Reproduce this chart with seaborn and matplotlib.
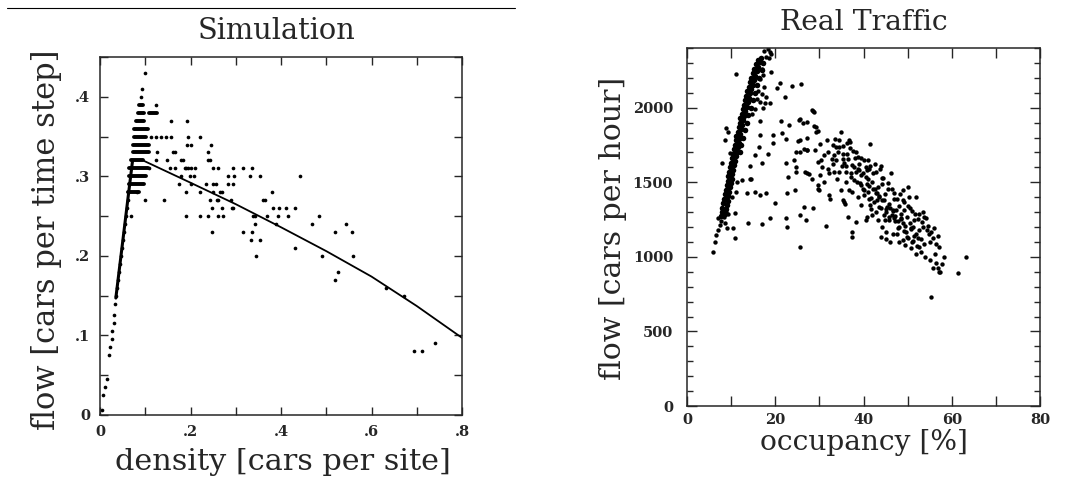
import matplotlib
matplotlib.use('Agg')
import matplotlib.pyplot as plt
import pandas as pd
import seaborn as sns
from matplotlib.lines import Line2D
from matplotlib.ticker import MultipleLocator, FuncFormatter

# ---------------- Simulation (left) ----------------
# free-flow dots near the origin
sim_free_density = [0.005, 0.007, 0.011, 0.015, 0.020, 0.022, 0.026, 0.026, 0.030, 0.032]
sim_free_flow = [0.006, 0.025, 0.035, 0.045, 0.076, 0.086, 0.095, 0.106, 0.116, 0.126]

# dense rising branch
sim_rise_density = [0.034, 0.036, 0.038, 0.040, 0.043, 0.045, 0.047, 0.049, 0.051, 0.053,
                    0.055, 0.057, 0.059, 0.061, 0.062, 0.064, 0.066, 0.068, 0.070]
sim_rise_flow = [0.14, 0.15, 0.16, 0.17, 0.18, 0.19, 0.20, 0.21, 0.22, 0.23,
                 0.24, 0.25, 0.26, 0.27, 0.28, 0.29, 0.30, 0.31, 0.32]

# horizontal runs of overlapping dots near the maximum
dash_flow = [0.39, 0.38, 0.38, 0.37, 0.36, 0.35, 0.34, 0.33, 0.32, 0.31, 0.30, 0.29, 0.28]
dash_start = [0.086, 0.083, 0.109, 0.080, 0.076, 0.075, 0.073, 0.073, 0.069, 0.065, 0.065, 0.063, 0.062]
dash_end = [0.094, 0.098, 0.127, 0.098, 0.105, 0.101, 0.109, 0.109, 0.095, 0.105, 0.101, 0.098, 0.087]

# scattered dots, row by row
sim_density = [
    0.100, 0.093, 0.091, 0.124,
    0.157, 0.193,
    0.112, 0.123, 0.134, 0.145, 0.156, 0.194, 0.220,
    0.193, 0.202, 0.245,
    0.125, 0.161, 0.165, 0.238,
    0.123, 0.147, 0.178, 0.184, 0.239, 0.243,
    0.109, 0.154, 0.165, 0.187, 0.191, 0.195, 0.202, 0.209, 0.249, 0.261, 0.293, 0.317, 0.335,
    0.180, 0.198, 0.207, 0.282, 0.297, 0.331, 0.354, 0.441,
    0.175, 0.202, 0.235, 0.249, 0.256, 0.282, 0.293,
    0.081, 0.190, 0.221, 0.249, 0.265, 0.269, 0.381,
    0.100, 0.141, 0.243, 0.258, 0.261, 0.289, 0.361, 0.365,
    0.247, 0.270, 0.291, 0.294, 0.383, 0.396, 0.412, 0.431,
    0.068, 0.191, 0.221, 0.239, 0.261, 0.272, 0.339, 0.343, 0.369, 0.394, 0.416, 0.485,
    0.343, 0.390, 0.468, 0.543,
    0.247, 0.317, 0.335, 0.519, 0.558,
    0.334, 0.354,
    0.430,
    0.345, 0.490, 0.560,
    0.527, 0.520, 0.632, 0.671,
    0.741, 0.693, 0.711,
]
sim_flow = [
    0.43, 0.41, 0.40, 0.39,
    0.37, 0.37,
    0.35, 0.35, 0.35, 0.35, 0.35, 0.35, 0.35,
    0.34, 0.34, 0.34,
    0.33, 0.33, 0.33, 0.33,
    0.32, 0.32, 0.32, 0.32, 0.32, 0.32,
    0.31, 0.31, 0.31, 0.31, 0.31, 0.31, 0.31, 0.31, 0.31, 0.31, 0.31, 0.31, 0.31,
    0.30, 0.30, 0.30, 0.30, 0.30, 0.30, 0.30, 0.30,
    0.29, 0.29, 0.29, 0.29, 0.29, 0.29, 0.29,
    0.28, 0.28, 0.28, 0.28, 0.28, 0.28, 0.28,
    0.27, 0.27, 0.27, 0.27, 0.27, 0.27, 0.27, 0.27,
    0.26, 0.26, 0.26, 0.26, 0.26, 0.26, 0.26, 0.26,
    0.25, 0.25, 0.25, 0.25, 0.25, 0.25, 0.25, 0.25, 0.25, 0.25, 0.25, 0.25,
    0.24, 0.24, 0.24, 0.24,
    0.23, 0.23, 0.23, 0.23, 0.23,
    0.22, 0.22,
    0.21,
    0.20, 0.20, 0.20,
    0.18, 0.17, 0.16, 0.15,
    0.09, 0.08, 0.08,
]

# fitted curves
line_rise_density = [0.035, 0.072]
line_rise_flow = [0.147, 0.320]
line_density = [0.095, 0.2, 0.3, 0.4, 0.5, 0.6, 0.7, 0.8]
line_flow = [0.320, 0.292, 0.265, 0.236, 0.206, 0.174, 0.137, 0.097]

# ---------------- Real traffic (right) ----------------
# dense free-flow band
band_occ = [7.6, 7.9, 8.0, 8.2, 8.4, 8.6, 8.8, 9.0, 9.2, 9.4, 9.6, 9.8, 10.0, 10.2, 10.4, 10.6, 10.8, 11.0,
            11.2, 11.5, 11.7, 11.9, 12.1, 12.4, 12.6, 12.9, 13.1, 13.4, 13.7, 14.0, 14.3, 14.6, 14.9, 15.2, 15.6, 16.0,
            8.6, 8.9, 9.0, 9.2, 9.4, 9.5, 9.7, 9.9, 10.1, 10.3, 10.5, 10.7, 10.9, 11.1, 11.3, 11.5, 11.7, 11.9,
            12.1, 12.3, 12.5, 12.7, 13.0, 13.2, 13.5, 13.8, 14.0, 14.3, 14.6, 14.9, 15.2, 15.5, 15.9, 16.2, 16.5, 16.8,
            11.9, 12.3, 12.7, 13.1, 13.6, 13.9, 14.4, 14.9, 15.4, 15.8, 16.4, 16.9, 17.3,
            8.2, 8.7, 9.3, 9.8, 10.4, 10.9, 11.4]
band_flow = [1275, 1300, 1330, 1360, 1390, 1420, 1450, 1480, 1510, 1540, 1570, 1600, 1630, 1660, 1690, 1720, 1750, 1780,
             1810, 1840, 1870, 1900, 1930, 1960, 1990, 2020, 2050, 2080, 2110, 2140, 2170, 2200, 2230, 2260, 2290, 2320,
             1290, 1320, 1345, 1375, 1405, 1435, 1465, 1495, 1525, 1555, 1585, 1615, 1645, 1675, 1705, 1735, 1765, 1795,
             1825, 1855, 1885, 1915, 1945, 1975, 2005, 2035, 2065, 2095, 2125, 2155, 2185, 2215, 2245, 2275, 2305, 2335,
             1700, 1750, 1800, 1850, 1900, 1950, 2000, 2050, 2100, 2150, 2200, 2250, 2300,
             1310, 1390, 1470, 1550, 1630, 1710, 1790]

# dots just below and above the band
edge_occ = [5.9, 6.3, 6.6, 7.0, 7.4, 7.0, 7.7, 8.3, 8.9, 9.3, 8.5, 9.0,
            17.5, 18.3, 18.8, 17.9, 18.5, 19.0, 16.9, 17.3, 16.6, 17.5, 16.2, 17.0, 15.8, 16.5, 17.6, 15.5, 14.8]
edge_flow = [1034, 1101, 1146, 1180, 1213, 1258, 1240, 1270, 1300, 1290, 1225, 1190,
             2380, 2395, 2370, 2340, 2330, 2360, 2260, 2220, 2190, 2140, 2110, 2090, 2060, 2040, 2030, 1990, 1960]

# loose dots between the two branches
fan_occ = [11.0, 19.1, 21.0, 20.4, 22.1, 23.7, 25.9, 18.0, 18.9, 17.2, 28.6, 21.4, 23.1, 25.5, 27.1, 29.3, 29.7,
           16.5, 19.5, 21.6, 22.5, 25.5, 16.5, 16.3, 15.3, 14.2, 16.9, 18.4, 19.5, 24.8, 25.5, 27.1, 22.5, 24.8,
           22.9, 14.2, 14.6, 12.5, 11.3, 15.3, 13.5, 11.2, 16.5, 18.0, 19.9, 22.7, 24.4, 27.1, 29.7, 26.5, 28.6,
           22.5, 22.7, 25.5, 26.9, 31.4, 13.8, 16.9, 18.7, 10.3, 10.8, 10.4, 10.8, 8.9, 9.3, 8.5, 9.7, 8.0,
           25.5, 37.5, 37.5, 35.8, 36.5, 38.4, 55.4, 61.5, 63.2, 56.9, 57.3, 28.4, 28.8]
fan_flow = [2225, 2241, 2167, 2129, 2073, 2145, 2158, 2073, 2028, 1995, 1977, 1912, 1883, 1923, 1906, 1872, 1845,
            1912, 1816, 1827, 1787, 1783, 1816, 1738, 1682, 1611, 1626, 1689, 1760, 1705, 1705, 1716, 1626, 1571,
            1537, 1521, 1521, 1515, 1503, 1436, 1430, 1432, 1414, 1425, 1358, 1425, 1448, 1559, 1481, 1336, 1325,
            1258, 1202, 1280, 1247, 1206, 1224, 1220, 1258, 1403, 1291, 1191, 1124, 1861, 1839, 1783, 1693, 1626,
            1063, 1168, 1135, 1354, 1269, 1235, 733, 889, 1001, 923, 900, 1985, 1970]

# congested cloud
cloud_occ = [25.3, 26.2, 28.8, 29.2, 27.1, 25.1, 31.7, 30.1, 33.0, 33.7, 34.5, 35.3, 36.8, 36.9, 41.5, 38.3,
             26.6, 27.3, 29.1, 31.1, 30.3, 29.6, 33.4, 33.7, 35.3, 35.6, 36.0, 31.9, 33.4, 34.5, 30.1, 32.2,
             27.7, 26.8, 24.7, 24.3, 28.3, 29.6, 30.0, 32.1, 32.4, 35.3, 35.6, 36.8, 37.5, 37.2, 38.3, 39.0,
             39.8, 41.3, 42.1, 44.0, 43.7, 46.2, 40.9, 42.1, 43.2, 44.3, 45.5, 40.2, 41.3, 42.4, 43.6, 42.8,
             44.3, 45.8, 46.6, 41.7, 42.8, 44.7, 45.8, 47.4, 48.5, 49.2, 47.7, 48.9, 50.4, 51.9, 48.9, 50.0,
             40.5, 40.9, 44.3, 45.1, 46.6, 48.1, 49.6, 50.8, 51.5, 52.6, 53.4, 53.8, 54.2, 48.9, 50.0, 51.1,
             50.8, 52.6, 53.0, 51.9, 54.9, 55.7, 56.0, 56.4, 57.2, 58.3, 55.7, 57.2,
             38.5, 39.5, 40.0, 41.0, 42.0, 43.0, 43.5, 44.8, 45.2, 46.0, 46.5, 47.0, 47.8, 48.5, 49.0, 49.8,
             50.5, 51.2, 52.0, 52.5, 53.0, 47.5, 48.0, 49.5, 46.0, 45.0, 44.0, 43.2, 42.0, 41.5, 39.5, 38.8,
             37.8, 39.0, 40.5, 36.0, 35.0, 34.0, 33.0, 32.0, 30.5, 31.0, 38.0, 36.2, 34.5, 37.0, 39.5, 41.0,
             42.5, 44.5, 47.0, 48.0, 50.0, 51.0, 53.5, 54.5, 55.0, 56.2, 55.0, 54.0, 57.8, 56.5,
             34.2, 35.3, 36.6, 37.3, 38.7, 39.4, 40.6, 41.3, 42.7, 43.4, 44.6, 45.3, 46.7, 47.2, 48.6, 49.3,
             50.7, 51.4, 52.3, 53.7, 35.2, 36.1, 37.2, 37.9, 39.2, 39.8, 41.1, 41.8, 43.1, 43.9, 45.1, 45.8,
             47.2, 47.9, 49.1, 49.8, 51.2, 52.1, 36.3, 37.6, 38.8, 40.2, 41.4, 42.9, 44.2, 45.6, 46.4, 48.3,
             49.2, 50.6, 51.7, 52.4, 53.3, 54.7, 55.4, 56.8, 33.6, 32.8, 34.9, 40.8, 44.9, 46.9]
cloud_flow = [1920, 1898, 1876, 1838, 1800, 1777, 1786, 1755, 1753, 1737, 1737, 1742, 1782, 1771, 1755, 1704,
              1726, 1715, 1719, 1681, 1652, 1637, 1681, 1648, 1659, 1626, 1608, 1592, 1570, 1570, 1547, 1559,
              1554, 1570, 1603, 1652, 1525, 1458, 1447, 1413, 1391, 1380, 1369, 1447, 1436, 1536, 1570, 1581,
              1559, 1592, 1559, 1608, 1592, 1563, 1491, 1458, 1469, 1491, 1458, 1413, 1391, 1369, 1335, 1425,
              1380, 1357, 1313, 1324, 1302, 1279, 1246, 1313, 1290, 1313, 1391, 1380, 1402, 1402, 1447, 1469,
              1246, 1268, 1201, 1168, 1156, 1201, 1168, 1190, 1246, 1290, 1302, 1268, 1257, 1112, 1123, 1101,
              1056, 1067, 1034, 1022, 1156, 1123, 1190, 1089, 1067, 1000, 922, 900,
              1500, 1480, 1450, 1520, 1500, 1430, 1400, 1420, 1300, 1330, 1280, 1260, 1240, 1260, 1230, 1270,
              1230, 1200, 1150, 1180, 1120, 1150, 1100, 1080, 1100, 1120, 1130, 1250, 1280, 1350, 1350, 1400,
              1600, 1620, 1600, 1500, 1450, 1520, 1620, 1700, 1600, 1500, 1660, 1690, 1780, 1730, 1660, 1650,
              1620, 1530, 1430, 1340, 1340, 1310, 1200, 1180, 1100, 1020, 980, 1000, 950, 960,
              1705, 1690, 1655, 1615, 1590, 1548, 1535, 1476, 1452, 1405, 1382, 1336, 1310, 1272, 1251, 1204,
              1188, 1141, 1127, 1086, 1612, 1571, 1560, 1512, 1495, 1452, 1437, 1392, 1378, 1327, 1318, 1265,
              1238, 1194, 1176, 1133, 1108, 1072, 1766, 1712, 1672, 1648, 1611, 1566, 1526, 1498, 1455, 1424,
              1366, 1326, 1288, 1255, 1234, 1206, 1166, 1137, 1788, 1655, 1838, 1585, 1245, 1390]

# ---------------- figure ----------------
sns.set_style('ticks')
plt.rcParams['font.family'] = ['DejaVu Serif']
plt.rcParams['axes.linewidth'] = 1.1

W, H = 1066, 479
fig = plt.figure(figsize=(W / 100, H / 100), dpi=100)
ax1 = fig.add_axes([100 / W, 1 - 415 / H, 362 / W, 358 / H])
ax2 = fig.add_axes([687 / W, 1 - 406 / H, 353 / W, 358 / H])

# left panel
sim_pts = pd.DataFrame({'density': sim_free_density + sim_rise_density + sim_density,
                        'flow': sim_free_flow + sim_rise_flow + sim_flow})
sns.lineplot(x=line_rise_density, y=line_rise_flow, ax=ax1, color='black', lw=2.2)
sns.lineplot(x=line_density, y=line_flow, ax=ax1, color='black', lw=1.3)
sns.scatterplot(data=sim_pts, x='density', y='flow', ax=ax1, color='black', s=7,
                linewidth=0, legend=False)
runs = ax1.hlines(dash_flow, dash_start, dash_end, color='black', lw=2.8)
runs.set_capstyle('round')

ax1.set_xlim(0, 0.8)
ax1.set_ylim(0, 0.45)
ax1.xaxis.set_major_locator(MultipleLocator(0.2))
ax1.xaxis.set_minor_locator(MultipleLocator(0.1))
ax1.yaxis.set_major_locator(MultipleLocator(0.1))
ax1.yaxis.set_minor_locator(MultipleLocator(0.05))
dot_fmt = FuncFormatter(lambda v, p: '0' if abs(v) < 1e-9 else f'{v:.1f}'.lstrip('0'))
ax1.xaxis.set_major_formatter(dot_fmt)
ax1.yaxis.set_major_formatter(dot_fmt)
ax1.tick_params(which='both', direction='in', top=True, right=True, length=6, width=1,
                labelsize=10.5, pad=7)

# right panel
sns.scatterplot(x=band_occ, y=band_flow, ax=ax2, color='black', s=16, linewidth=0, legend=False)
real_pts = pd.DataFrame({'occupancy': edge_occ + fan_occ + cloud_occ,
                         'flow': edge_flow + fan_flow + cloud_flow})
sns.scatterplot(data=real_pts, x='occupancy', y='flow', ax=ax2, color='black', s=10,
                linewidth=0, legend=False)
ax2.set_xlim(0, 80)
ax2.set_ylim(0, 2400)
ax2.xaxis.set_major_locator(MultipleLocator(20))
ax2.xaxis.set_minor_locator(MultipleLocator(10))
ax2.yaxis.set_major_locator(MultipleLocator(500))
ax2.yaxis.set_minor_locator(MultipleLocator(100))
ax2.tick_params(which='both', direction='in', top=True, right=True, width=1, labelsize=10.5)
ax2.tick_params(which='major', length=7)
ax2.tick_params(axis='x', which='minor', length=7)
ax2.tick_params(axis='y', which='minor', length=4)
ax2.tick_params(axis='x', which='major', pad=5)
ax2.tick_params(axis='y', which='major', pad=10)

for ax in (ax1, ax2):
    ax.set_xlabel('')
    ax.set_ylabel('')
    for lab in ax.get_xticklabels() + ax.get_yticklabels():
        lab.set_fontweight('bold')

# texts placed like the scanned page, sized to the scanned widths
texts = [
    (fig.text(277 / W, 1 - 31 / H, 'Simulation', ha='center', va='center', fontsize=20), 158, False),
    (fig.text(864 / W, 1 - 23 / H, 'Real Traffic', ha='center', va='center', fontsize=20), 168, False),
    (fig.text(283 / W, 1 - 462 / H, 'density [cars per site]', ha='center', va='center', fontsize=20), 335, False),
    (fig.text(864 / W, 1 - 443 / H, 'occupancy [%]', ha='center', va='center', fontsize=20), 208, False),
    (fig.text(47 / W, 1 - 240 / H, 'flow [cars per time step]', ha='center', va='center',
              rotation=90, fontsize=20), 380, True),
    (fig.text(613 / W, 1 - 228 / H, 'flow [cars per hour]', ha='center', va='center',
              rotation=90, fontsize=20), 303, True),
]
fig.canvas.draw()
for t, target, vertical in texts:
    bb = t.get_window_extent()
    size = bb.height if vertical else bb.width
    t.set_fontsize(t.get_fontsize() * target / size)

# rule at the top of the page
fig.add_artist(Line2D([7 / W, 515 / W], [1 - 8 / H, 1 - 8 / H], transform=fig.transFigure,
                      color='black', lw=0.8))

fig.savefig('out.png', dpi=100)
